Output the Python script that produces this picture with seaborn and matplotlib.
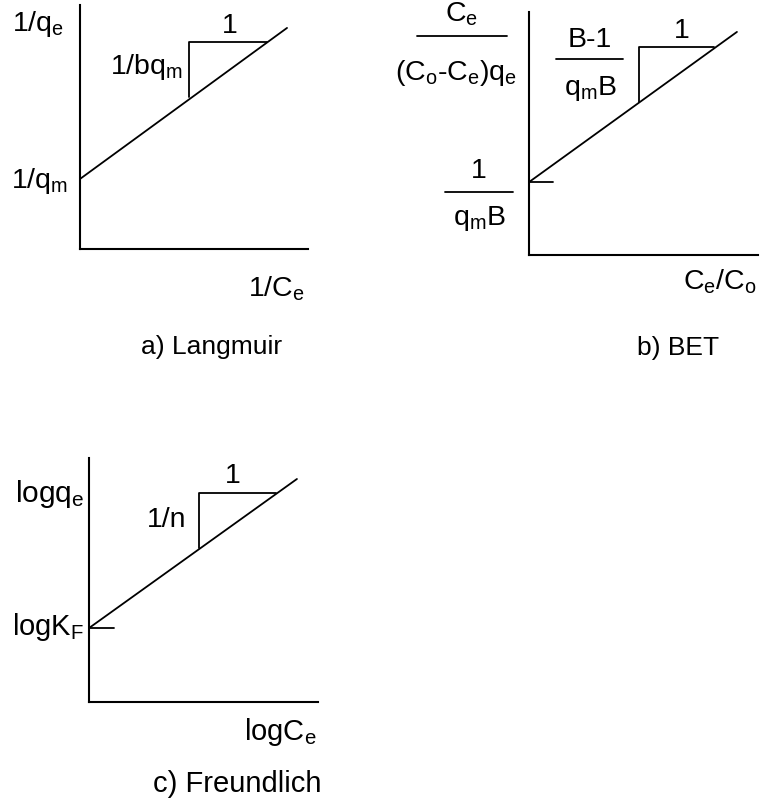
import pandas as pd
import matplotlib.pyplot as plt
import seaborn as sns
from matplotlib.lines import Line2D

sns.set_theme(style="white")
plt.rcParams['font.family'] = ['Liberation Sans', 'DejaVu Sans']
plt.rcParams.update({'mathtext.fontset': 'custom', 'mathtext.rm': 'Liberation Sans',
                     'mathtext.it': 'Liberation Sans', 'mathtext.default': 'regular'})

W, H = 760, 807

# isotherm lines in axis units (0..1), one entry per panel
panels = ['a) Langmuir', 'b) BET', 'c) Freundlich']
intercept = [0.287, 0.300, 0.303]
end_x = [0.908, 0.908, 0.908]
end_y = [0.906, 0.918, 0.914]
# slope triangle corners
tri_x0 = [0.478, 0.480, 0.480]
tri_x1 = [0.820, 0.808, 0.817]
tri_y0 = [0.623, 0.630, 0.631]
tri_y1 = [0.848, 0.856, 0.857]
# short tick at the intercept (none on Langmuir)
tick_len = [0.0, 0.105, 0.109]

# axes boxes in pixels: left, top, right, bottom
boxes = [(80, 5, 308, 249), (529, 12, 758, 255), (89, 458, 318, 702)]

fig = plt.figure(figsize=(W / 100, H / 100), dpi=100)


def px(x, y):
    return x / W, 1 - y / H


def label(x, y, s, ha='left', size=20.5):
    fig.text(*px(x, y), s, ha=ha, va='baseline', fontsize=size, color='black')


def bar(x0, x1, y):
    fig.add_artist(Line2D([x0 / W, x1 / W], [1 - y / H] * 2, transform=fig.transFigure,
                          color='black', lw=1.3))


for i, name in enumerate(panels):
    l, t, r, b = boxes[i]
    ax = fig.add_axes([l / W, 1 - b / H, (r - l) / W, (b - t) / H])
    line = pd.DataFrame({'x': [0, end_x[i]], 'y': [intercept[i], end_y[i]]})
    sns.lineplot(data=line, x='x', y='y', ax=ax, color='black', lw=1.3, estimator=None)
    tri = pd.DataFrame({'x': [tri_x0[i], tri_x0[i], tri_x1[i]],
                        'y': [tri_y0[i], tri_y1[i], tri_y1[i]]})
    sns.lineplot(data=tri, x='x', y='y', ax=ax, color='black', lw=1.3,
                 sort=False, estimator=None)
    if tick_len[i] > 0:
        tk = pd.DataFrame({'x': [0, tick_len[i]], 'y': [intercept[i]] * 2})
        sns.lineplot(data=tk, x='x', y='y', ax=ax, color='black', lw=1.3, estimator=None)
    for ln in ax.lines:
        ln.set_clip_on(False)
    ax.set_xlim(0, 1)
    ax.set_ylim(0, 1)
    ax.set_xticks([])
    ax.set_yticks([])
    ax.set_xlabel('')
    ax.set_ylabel('')
    ax.set_facecolor('none')
    sns.despine(ax=ax)
    for s in ['left', 'bottom']:
        ax.spines[s].set_color('black')
        ax.spines[s].set_linewidth(1.5)

# a) Langmuir
label(12, 31, '1/q$_e$')
label(68, 188, '1/q$_m$', ha='right')
label(110, 74, '1/bq$_m$')
label(230, 33, '1', ha='center')
label(305, 297, '1/C$_e$', ha='right')
label(212, 354, 'a) Langmuir', ha='center', size=19)

# b) BET
label(462, 22, 'C$_e$', ha='center')
bar(417, 507, 36)
label(395, 80, '(C$_o$-C$_e$)q$_e$')
label(590, 47, 'B-1', ha='center')
bar(556, 623, 59)
label(590, 95, 'q$_m$B', ha='center')
label(682, 38, '1', ha='center')
label(479, 178, '1', ha='center')
bar(445, 513, 192)
label(479, 225, 'q$_m$B', ha='center')
label(757, 290, 'C$_e$/C$_o$', ha='right')
label(678, 355, 'b) BET', ha='center', size=19)

# c) Freundlich
label(15, 502, 'logq$_e$', size=21.5)
label(147, 527, '1/n')
label(233, 483, '1', ha='center')
label(12, 635, 'logK$_F$', size=21)
label(317, 740, 'logC$_e$', ha='right', size=21)
label(237, 792, 'c) Freundlich', ha='center', size=21)

fig.savefig('out.png', dpi=100)
